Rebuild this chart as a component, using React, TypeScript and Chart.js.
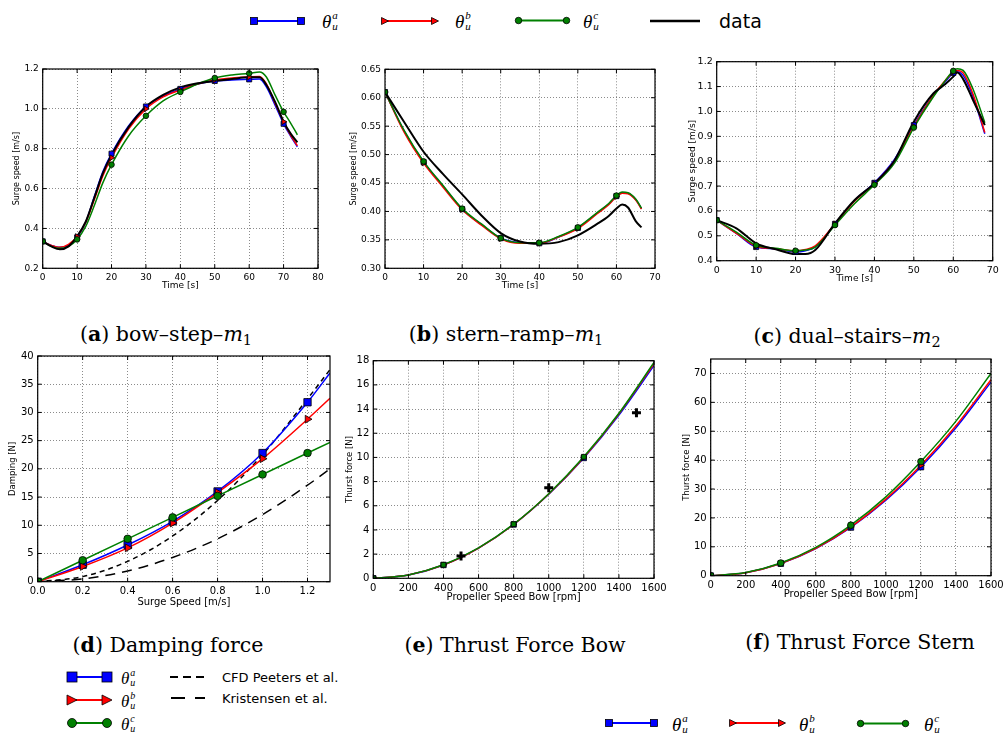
import React, { useEffect, useRef } from 'react';
import { Chart, registerables } from 'chart.js';
Chart.register(...registerables);

const BLUE = '#0000ff';
const RED = '#ff0000';
const GREEN = '#008000';
const BLACK = '#000000';

// ---------- (a) bow-step-m1 ----------
const aTime = [0, 2.5, 5, 7.5, 10, 12.5, 15, 17.5, 20, 25, 30, 35, 40, 45, 50, 55, 60, 63, 65, 67.5, 70, 72, 74];
const aData = [0.335, 0.31, 0.295, 0.31, 0.36, 0.434, 0.554, 0.677, 0.769, 0.91, 1.011, 1.07, 1.108, 1.128, 1.14, 1.15, 1.158, 1.158, 1.12, 1.036, 0.936, 0.877, 0.832];
const aBlue = [0.335, 0.315, 0.305, 0.315, 0.355, 0.43, 0.56, 0.685, 0.775, 0.915, 1.012, 1.065, 1.1, 1.125, 1.14, 1.145, 1.148, 1.15, 1.11, 1.02, 0.925, 0.865, 0.81];
const aRed = [0.335, 0.315, 0.305, 0.32, 0.36, 0.43, 0.545, 0.665, 0.755, 0.9, 1.0, 1.06, 1.095, 1.125, 1.145, 1.155, 1.16, 1.162, 1.125, 1.03, 0.935, 0.87, 0.815];
const aGreen = [0.335, 0.31, 0.3, 0.31, 0.345, 0.41, 0.515, 0.63, 0.72, 0.865, 0.965, 1.04, 1.085, 1.125, 1.155, 1.17, 1.178, 1.185, 1.16, 1.07, 0.985, 0.93, 0.87];
const aMarks = [0, 10, 20, 30, 40, 50, 60, 70];
const aXTicks = [0, 10, 20, 30, 40, 50, 60, 70, 80];
const aYTicks = [0.2, 0.4, 0.6, 0.8, 1.0, 1.2];

// ---------- (b) stern-ramp-m1 ----------
const bTime = [0, 5, 10, 15, 20, 25, 30, 35, 40, 45, 50, 55, 58, 60, 61.5, 63, 65, 66.5];
const bData = [0.61, 0.557, 0.505, 0.466, 0.43, 0.393, 0.362, 0.347, 0.343, 0.346, 0.358, 0.378, 0.392, 0.405, 0.412, 0.407, 0.383, 0.372];
const bBlue = [0.61, 0.541, 0.487, 0.445, 0.404, 0.377, 0.353, 0.345, 0.344, 0.355, 0.371, 0.397, 0.413, 0.427, 0.433, 0.432, 0.421, 0.405];
const bRed = [0.61, 0.539, 0.485, 0.443, 0.403, 0.376, 0.352, 0.344, 0.344, 0.355, 0.37, 0.396, 0.412, 0.426, 0.432, 0.431, 0.42, 0.404];
const bGreen = [0.61, 0.542, 0.488, 0.446, 0.405, 0.378, 0.353, 0.345, 0.345, 0.356, 0.372, 0.398, 0.414, 0.428, 0.434, 0.433, 0.422, 0.406];
const bMarks = [0, 10, 20, 30, 40, 50, 60];
const bXTicks = [0, 10, 20, 30, 40, 50, 60, 70];
const bYTicks = [0.3, 0.35, 0.4, 0.45, 0.5, 0.55, 0.6, 0.65];

// ---------- (c) dual-stairs-m2 ----------
const cTime = [0, 5, 10, 15, 20, 22.5, 25, 30, 35, 40, 45, 50, 55, 58, 60, 61, 62.5, 65, 68];
const cData = [0.563, 0.53, 0.47, 0.446, 0.427, 0.427, 0.443, 0.55, 0.644, 0.711, 0.8, 0.959, 1.073, 1.11, 1.14, 1.157, 1.13, 1.046, 0.945];
const cBlue = [0.563, 0.51, 0.455, 0.448, 0.435, 0.44, 0.455, 0.548, 0.643, 0.713, 0.805, 0.945, 1.065, 1.12, 1.155, 1.16, 1.145, 1.06, 0.91];
const cRed = [0.563, 0.51, 0.458, 0.448, 0.44, 0.445, 0.46, 0.548, 0.64, 0.71, 0.8, 0.94, 1.065, 1.125, 1.158, 1.165, 1.155, 1.07, 0.915];
const cGreen = [0.563, 0.515, 0.462, 0.45, 0.44, 0.443, 0.455, 0.543, 0.63, 0.705, 0.79, 0.935, 1.06, 1.125, 1.163, 1.172, 1.165, 1.09, 0.955];
const cMarks = [0, 10, 20, 30, 40, 50, 60];
const cXTicks = [0, 10, 20, 30, 40, 50, 60, 70];
const cYTicks = [0.4, 0.5, 0.6, 0.7, 0.8, 0.9, 1.0, 1.1, 1.2];

// ---------- (d) Damping force ----------
const dSpeed = [0, 0.2, 0.4, 0.6, 0.8, 1.0, 1.2, 1.3];
const dBlue = [0, 3.0, 6.5, 10.7, 16.0, 22.8, 31.8, 37.0];
const dRed = [0, 2.7, 6.0, 10.4, 15.8, 21.8, 28.8, 32.5];
const dGreen = [0, 3.8, 7.6, 11.4, 15.2, 19.0, 22.8, 24.7];
const dCfd = [0, 0.9, 3.6, 8.1, 14.4, 22.5, 32.4, 37.6];
const dKristensen = [0, 0.5, 1.9, 4.3, 7.6, 11.9, 17.1, 20.0];
const dMarks = [0, 0.2, 0.4, 0.6, 0.8, 1.0, 1.2];
const dXTicks = [0, 0.2, 0.4, 0.6, 0.8, 1.0, 1.2];
const dYTicks = [0, 5, 10, 15, 20, 25, 30, 35, 40];

// ---------- (e) Thrust Force Bow ----------
const eRpm = [0, 200, 400, 600, 800, 1000, 1200, 1400, 1600];
const eBlue = [0, 0.27, 1.1, 2.5, 4.45, 6.95, 9.95, 13.5, 17.6];
const eRed = [0, 0.28, 1.1, 2.5, 4.45, 6.97, 10.0, 13.6, 17.75];
const eGreen = [0, 0.28, 1.12, 2.52, 4.48, 7.0, 10.05, 13.65, 17.85];
const eDataRpm = [500, 1000, 1500];
const eDataThrust = [1.85, 7.5, 13.7];
const eMarks = [0, 400, 800, 1200];
const eXTicks = [0, 200, 400, 600, 800, 1000, 1200, 1400, 1600];
const eYTicks = [0, 2, 4, 6, 8, 10, 12, 14, 16, 18];

// ---------- (f) Thrust Force Stern ----------
const fRpm = [0, 200, 400, 600, 800, 1000, 1200, 1400, 1600];
const fBlue = [0, 1.05, 4.2, 9.4, 16.7, 26.1, 37.6, 51.2, 67.0];
const fRed = [0, 1.06, 4.25, 9.5, 16.9, 26.5, 38.2, 51.9, 67.8];
const fGreen = [0, 1.1, 4.4, 9.8, 17.5, 27.3, 39.5, 53.5, 70.0];
const fMarks = [0, 400, 800, 1200];
const fXTicks = [0, 200, 400, 600, 800, 1000, 1200, 1400, 1600];
const fYTicks = [0, 10, 20, 30, 40, 50, 60, 70];

// ---------- helpers ----------
const SANS = '"DejaVu Sans", sans-serif';
const SERIF = '"DejaVu Serif", serif';

function pts(xs: number[], ys: number[]) {
  return xs.map((x, i) => ({ x, y: ys[i] }));
}
function pick(xs: number[], ys: number[], at: number[]) {
  return at.map((v) => ({ x: v, y: ys[xs.indexOf(v)] }));
}
function lineDs(xs: number[], ys: number[], color: string, width: number, dash: number[] = []) {
  return {
    data: pts(xs, ys),
    borderColor: color,
    backgroundColor: color,
    borderWidth: width,
    borderDash: dash,
    pointRadius: 0,
    cubicInterpolationMode: 'monotone',
    fill: false,
  };
}
function markDs(data: any[], color: string, style: string, r: number, rot = 0, bw = 0.8) {
  return {
    data,
    showLine: false,
    pointStyle: style,
    pointRadius: r,
    pointBackgroundColor: color,
    pointBorderColor: '#000',
    pointBorderWidth: bw,
    pointRotation: rot,
    borderColor: color,
    backgroundColor: color,
  };
}

const framePlugin = {
  id: 'frameTicks',
  afterDraw(chart: any) {
    const { ctx, chartArea } = chart;
    const { left, top, right, bottom } = chartArea;
    ctx.save();
    ctx.strokeStyle = '#000';
    ctx.lineWidth = 1;
    ctx.setLineDash([]);
    ctx.beginPath();
    const xs = chart.scales.x;
    const ys = chart.scales.y;
    xs.ticks.forEach((t: any) => {
      const p = xs.getPixelForValue(t.value);
      ctx.moveTo(p, bottom);
      ctx.lineTo(p, bottom - 4);
      ctx.moveTo(p, top);
      ctx.lineTo(p, top + 4);
    });
    ys.ticks.forEach((t: any) => {
      const p = ys.getPixelForValue(t.value);
      ctx.moveTo(left, p);
      ctx.lineTo(left + 4, p);
      ctx.moveTo(right, p);
      ctx.lineTo(right - 4, p);
    });
    ctx.stroke();
    ctx.lineWidth = 1.2;
    ctx.strokeRect(left, top, right - left, bottom - top);
    ctx.restore();
  },
};

type Geo = { l: number; t: number; r: number; b: number; yt: number; xt: number; tickFont: number; xFont: number; yFont: number };
type Axis = { min: number; max: number; ticks: number[]; dec: number; title: string };

function ChartPanel({ geo, datasets, xAxis, yAxis }: { geo: Geo; datasets: any[]; xAxis: Axis; yAxis: Axis }) {
  const ref = useRef<HTMLCanvasElement>(null);
  const yLh = geo.yFont * 1.2;
  const xLh = geo.xFont * 1.2;
  const left = Math.round(geo.yt - yLh / 2);
  const top = Math.round(geo.t - 12);
  const right = Math.round(geo.r + 18);
  const bottom = Math.round(geo.xt + xLh / 2);
  const W = right - left;
  const H = bottom - top;
  const yW = geo.l - left;
  const xH = bottom - geo.b;

  useEffect(() => {
    const mkScale = (ax: Axis, isX: boolean) => ({
      type: 'linear',
      min: ax.min,
      max: ax.max,
      afterBuildTicks: (scale: any) => {
        scale.ticks = ax.ticks.map((v) => ({ value: v }));
      },
      afterFit: (scale: any) => {
        if (isX) scale.height = xH;
        else scale.width = yW;
      },
      ticks: {
        autoSkip: false,
        maxRotation: 0,
        minRotation: 0,
        padding: 4,
        color: '#000',
        font: { family: SANS, size: geo.tickFont },
        callback: (v: any) => Number(v).toFixed(ax.dec),
      },
      grid: { color: 'rgba(0,0,0,0.65)', lineWidth: 0.7, drawTicks: false },
      border: { display: false, dash: [1, 2] },
      title: {
        display: true,
        text: ax.title,
        color: '#000',
        padding: 0,
        font: { family: SANS, size: isX ? geo.xFont : geo.yFont, lineHeight: 1.2 },
      },
    });
    const chart = new Chart(ref.current as HTMLCanvasElement, {
      type: 'line',
      data: { datasets },
      options: {
        responsive: false,
        animation: false,
        events: [],
        layout: { autoPadding: false, padding: { left: 0, top: geo.t - top, right: right - geo.r, bottom: 0 } },
        plugins: { legend: { display: false }, tooltip: { enabled: false } },
        scales: { x: mkScale(xAxis, true), y: mkScale(yAxis, false) },
      } as any,
      plugins: [framePlugin],
    } as any);
    return () => chart.destroy();
  }, []);

  return (
    <canvas
      ref={ref}
      width={W}
      height={H}
      style={{ position: 'absolute', left, top, width: W, height: H }}
    />
  );
}

function Theta({ s, x, y, size = 19 }: { s: string; x: number; y: number; size?: number }) {
  const small = Math.round(size * 0.6);
  return (
    <div
      style={{
        position: 'absolute',
        left: x,
        top: y,
        transform: 'translateY(-50%)',
        display: 'flex',
        alignItems: 'center',
        fontFamily: '"Liberation Serif", serif',
        fontStyle: 'italic',
        color: '#000',
        lineHeight: 1,
      }}
    >
      <span style={{ fontSize: size }}>θ</span>
      <span style={{ display: 'flex', flexDirection: 'column', fontSize: small, lineHeight: `${small}px`, marginLeft: 1 }}>
        <span>{s}</span>
        <span>u</span>
      </span>
    </div>
  );
}

function LegLine({ x1, x2, y, color, marker, size, lw = 2, dash }: { x1: number; x2: number; y: number; color: string; marker?: string; size: number; lw?: number; dash?: string }) {
  const pad = size;
  const w = x2 - x1 + pad * 2;
  const h = size * 2 + 4;
  const cy = h / 2;
  const ends = [pad, w - pad];
  const shape = (cx: number, k: number) => {
    const s = size;
    if (marker === 'square') return <rect key={k} x={cx - s / 2} y={cy - s / 2} width={s} height={s} fill={color} stroke="#000" strokeWidth={0.8} />;
    if (marker === 'triangle') return <polygon key={k} points={`${cx - s / 2},${cy - s / 2} ${cx + s / 2},${cy} ${cx - s / 2},${cy + s / 2}`} fill={color} stroke="#000" strokeWidth={0.8} />;
    if (marker === 'circle') return <circle key={k} cx={cx} cy={cy} r={s / 2} fill={color} stroke="#000" strokeWidth={0.8} />;
    return null;
  };
  return (
    <svg style={{ position: 'absolute', left: x1 - pad, top: y - cy }} width={w} height={h}>
      <line x1={pad} y1={cy} x2={w - pad} y2={cy} stroke={color} strokeWidth={lw} strokeDasharray={dash} />
      {marker ? ends.map((cx, k) => shape(cx, k)) : null}
    </svg>
  );
}

function Txt({ x, y, size, children, family = SANS }: { x: number; y: number; size: number; children: any; family?: string }) {
  return (
    <div style={{ position: 'absolute', left: x, top: y, transform: 'translateY(-50%)', fontFamily: family, fontSize: size, lineHeight: 1, color: '#000', whiteSpace: 'nowrap' }}>
      {children}
    </div>
  );
}

function Caption({ cx, cy, letter, text, math, sub }: { cx: number; cy: number; letter: string; text: string; math?: string; sub?: string }) {
  return (
    <div
      style={{
        position: 'absolute',
        left: cx,
        top: cy,
        transform: 'translate(-50%, -50%)',
        fontFamily: SERIF,
        fontSize: 20.5,
        lineHeight: 1,
        whiteSpace: 'nowrap',
        color: '#000',
      }}
    >
      (<b>{letter}</b>) {text}
      {math ? <i>{math}</i> : null}
      {sub ? <span style={{ fontSize: '0.7em', position: 'relative', top: '0.25em' }}>{sub}</span> : null}
    </div>
  );
}

const topGeoFonts = { tickFont: 9, xFont: 9, yFont: 8 };
const cGeoFonts = { tickFont: 9.5, xFont: 9, yFont: 9 };
const botGeoFonts = { tickFont: 10, xFont: 10, yFont: 8.5 };

export default function App() {
  // Chart.js draws the first dataset on top, so lists run from top-most to bottom-most.
  const topSeries = (xs: number[], data: number[], blue: number[], red: number[], green: number[], marks: number[]) => [
    markDs(pick(xs, green, marks), GREEN, 'circle', 2.8),
    markDs(pick(xs, red, marks), RED, 'triangle', 3.2, 90),
    markDs(pick(xs, blue, marks), BLUE, 'rect', 3.6),
    lineDs(xs, data, BLACK, 2),
    lineDs(xs, green, GREEN, 1.5),
    lineDs(xs, red, RED, 1.5),
    lineDs(xs, blue, BLUE, 1.5),
  ];

  const aDs = topSeries(aTime, aData, aBlue, aRed, aGreen, aMarks);
  const bDs = topSeries(bTime, bData, bBlue, bRed, bGreen, bMarks);
  const cDs = topSeries(cTime, cData, cBlue, cRed, cGreen, cMarks);

  const dDs = [
    markDs(pick(dSpeed, dGreen, dMarks), GREEN, 'circle', 3.8),
    markDs(pick(dSpeed, dRed, dMarks), RED, 'triangle', 4.5, 90),
    markDs(pick(dSpeed, dBlue, dMarks), BLUE, 'rect', 5.2),
    lineDs(dSpeed, dGreen, GREEN, 1.5),
    lineDs(dSpeed, dRed, RED, 1.5),
    lineDs(dSpeed, dBlue, BLUE, 1.5),
    lineDs(dSpeed, dKristensen, BLACK, 1.5, [10, 7]),
    lineDs(dSpeed, dCfd, BLACK, 1.5, [5, 4]),
  ];

  const eDs = [
    { ...markDs(pts(eDataRpm, eDataThrust), BLACK, 'cross', 4.5, 0, 3), pointBorderColor: '#000' },
    markDs(pick(eRpm, eGreen, eMarks), GREEN, 'rect', 3.4),
    markDs(pick(eRpm, eRed, eMarks), RED, 'triangle', 3.2, 90),
    markDs(pick(eRpm, eBlue, eMarks), BLUE, 'rect', 3.8),
    lineDs(eRpm, eGreen, GREEN, 1.5),
    lineDs(eRpm, eRed, RED, 1.5),
    lineDs(eRpm, eBlue, BLUE, 1.5),
  ];

  const fDs = [
    markDs(pick(fRpm, fGreen, fMarks), GREEN, 'circle', 3.3),
    markDs(pick(fRpm, fRed, fMarks), RED, 'triangle', 3.5, 90),
    markDs(pick(fRpm, fBlue, fMarks), BLUE, 'rect', 4),
    lineDs(fRpm, fGreen, GREEN, 1.5),
    lineDs(fRpm, fRed, RED, 1.5),
    lineDs(fRpm, fBlue, BLUE, 1.5),
  ];

  return (
    <div style={{ position: 'absolute', left: 0, top: 0, width: 1003, height: 736, background: '#fff', overflow: 'hidden' }}>
      {/* top legend */}
      <LegLine x1={254} x2={301} y={20.5} color={BLUE} marker="square" size={7} />
      <Theta s="a" x={322} y={21} />
      <LegLine x1={385} x2={435} y={20.5} color={RED} marker="triangle" size={7} />
      <Theta s="b" x={455} y={21} />
      <LegLine x1={518} x2={566} y={20.5} color={GREEN} marker="circle" size={6.5} />
      <Theta s="c" x={583} y={21} />
      <LegLine x1={650} x2={700} y={20.5} color={BLACK} size={4} lw={2.5} />
      <Txt x={719} y={21} size={19}>data</Txt>

      <ChartPanel
        geo={{ l: 42.7, t: 69, r: 318, b: 268.3, yt: 17, xt: 286, ...topGeoFonts }}
        datasets={aDs}
        xAxis={{ min: 0, max: 80, ticks: aXTicks, dec: 0, title: 'Time [s]' }}
        yAxis={{ min: 0.2, max: 1.2, ticks: aYTicks, dec: 1, title: 'Surge speed [m/s]' }}
      />
      <ChartPanel
        geo={{ l: 385, t: 69.3, r: 655, b: 268.3, yt: 354, xt: 286, ...topGeoFonts }}
        datasets={bDs}
        xAxis={{ min: 0, max: 70, ticks: bXTicks, dec: 0, title: 'Time [s]' }}
        yAxis={{ min: 0.3, max: 0.65, ticks: bYTicks, dec: 2, title: 'Surge speed [m/s]' }}
      />
      <ChartPanel
        geo={{ l: 716.7, t: 61.7, r: 992.7, b: 260.7, yt: 692.7, xt: 278.3, ...cGeoFonts }}
        datasets={cDs}
        xAxis={{ min: 0, max: 70, ticks: cXTicks, dec: 0, title: 'Time [s]' }}
        yAxis={{ min: 0.4, max: 1.2, ticks: cYTicks, dec: 1, title: 'Surge speed [m/s]' }}
      />

      <Caption cx={166} cy={334} letter="a" text="bow–step–" math="m" sub="1" />
      <Caption cx={506} cy={334} letter="b" text="stern–ramp–" math="m" sub="1" />
      <Caption cx={847} cy={336} letter="c" text="dual–stairs–" math="m" sub="2" />

      <ChartPanel
        geo={{ l: 37.7, t: 356, r: 330, b: 581.7, yt: 13.3, xt: 602, ...botGeoFonts }}
        datasets={dDs}
        xAxis={{ min: 0, max: 1.3, ticks: dXTicks, dec: 1, title: 'Surge Speed [m/s]' }}
        yAxis={{ min: 0, max: 40, ticks: dYTicks, dec: 0, title: 'Damping [N]' }}
      />
      <ChartPanel
        geo={{ l: 373.3, t: 360.7, r: 654, b: 578.3, yt: 350, xt: 597.3, ...botGeoFonts }}
        datasets={eDs}
        xAxis={{ min: 0, max: 1600, ticks: eXTicks, dec: 0, title: 'Propeller Speed Bow [rpm]' }}
        yAxis={{ min: 0, max: 18, ticks: eYTicks, dec: 0, title: 'Thurst force [N]' }}
      />
      <ChartPanel
        geo={{ l: 710.7, t: 359, r: 991, b: 575.7, yt: 686.7, xt: 594.3, ...botGeoFonts }}
        datasets={fDs}
        xAxis={{ min: 0, max: 1600, ticks: fXTicks, dec: 0, title: 'Propeller Speed Bow [rpm]' }}
        yAxis={{ min: 0, max: 75, ticks: fYTicks, dec: 0, title: 'Thurst force [N]' }}
      />

      <Caption cx={168} cy={645} letter="d" text="Damping force" />
      <Caption cx={515} cy={645} letter="e" text="Thrust Force Bow" />
      <Caption cx={860} cy={642} letter="f" text="Thrust Force Stern" />

      {/* bottom-left legend */}
      <LegLine x1={72} x2={107} y={677} color={BLUE} marker="square" size={10} />
      <Theta s="a" x={121} y={678} size={17} />
      <LegLine x1={72} x2={107} y={700} color={RED} marker="triangle" size={10} />
      <Theta s="b" x={121} y={701} size={17} />
      <LegLine x1={72} x2={107} y={723} color={GREEN} marker="circle" size={9} />
      <Theta s="c" x={121} y={724} size={17} />
      <LegLine x1={170} x2={205} y={677} color={BLACK} size={2} lw={2} dash="8 5" />
      <Txt x={222} y={677} size={13}>CFD Peeters et al.</Txt>
      <LegLine x1={171} x2={205} y={698} color={BLACK} size={2} lw={2} dash="14 10" />
      <Txt x={222} y={698} size={13}>Kristensen et al.</Txt>

      {/* bottom-right legend */}
      <LegLine x1={609} x2={654} y={723} color={BLUE} marker="square" size={7} />
      <Theta s="a" x={672} y={724} />
      <LegLine x1={733} x2={782} y={723} color={RED} marker="triangle" size={7} />
      <Theta s="b" x={799} y={724} />
      <LegLine x1={860} x2={905} y={723} color={GREEN} marker="circle" size={6.5} />
      <Theta s="c" x={924} y={724} />
    </div>
  );
}
